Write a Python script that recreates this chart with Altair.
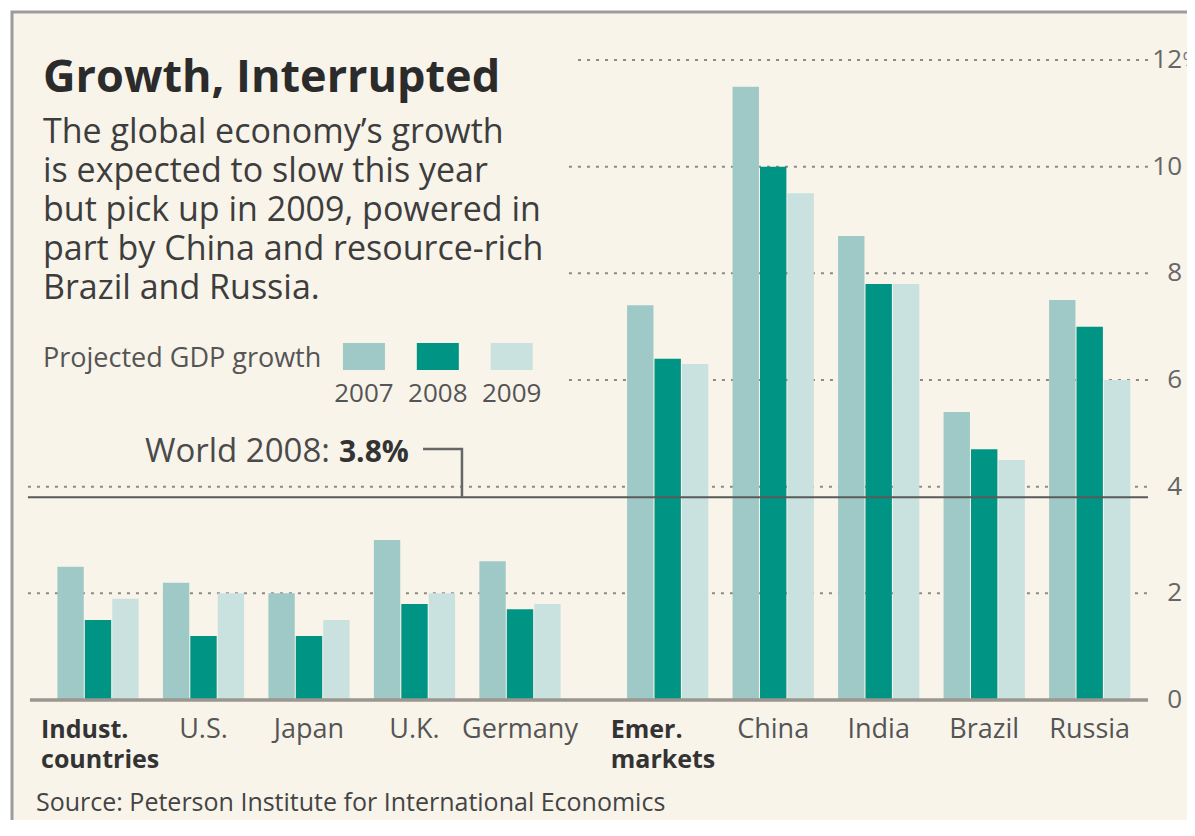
import altair as alt
import pandas as pd

# ---------------- data ----------------
groups = ["Indust.\ncountries", "U.S.", "Japan", "U.K.", "Germany",
          "Emer.\nmarkets", "China", "India", "Brazil", "Russia"]
bold_groups = ["Indust.\ncountries", "Emer.\nmarkets"]
years = ["2007", "2008", "2009"]
g2007 = [2.5, 2.2, 2.0, 3.0, 2.6, 7.4, 11.5, 8.7, 5.4, 7.5]
g2008 = [1.5, 1.2, 1.2, 1.8, 1.7, 6.4, 10.0, 7.8, 4.7, 7.0]
g2009 = [1.9, 2.0, 1.5, 2.0, 1.8, 6.3, 9.5, 7.8, 4.5, 6.0]
colors = ["#9fc9c6", "#009484", "#c9e1df"]
ticks = [0, 2, 4, 6, 8, 10, 12]
world_2008 = 3.8
title_text = "Growth, Interrupted"
body_lines = ["The global economy\u2019s growth",
              "is expected to slow this year",
              "but pick up in 2009, powered in",
              "part by China and resource-rich",
              "Brazil and Russia."]
legend_title = "Projected GDP growth"
source_text = "Source: Peterson Institute for International Economics"

FONT = "Open Sans"
CREAM = "#f8f4ea"

# ---------------- tables ----------------
rows = []
for gi, g in enumerate(groups):
    for si, (yr, vals) in enumerate(zip(years, [g2007, g2008, g2009])):
        rows.append({"group": g, "gi": gi, "year": yr, "si": si, "value": vals[gi]})
bars_df = pd.DataFrame(rows)
labels_df = pd.DataFrame({"group": groups, "gi": list(range(len(groups)))})
labels_df["bold"] = labels_df["group"].isin(bold_groups)
ticks_df = pd.DataFrame({"t": ticks, "label": [str(t) for t in ticks]})
grid_df = ticks_df[ticks_df["t"] > 0]
body_df = pd.DataFrame({"line": body_lines, "i": list(range(len(body_lines)))})
legend_df = pd.DataFrame({"year": years, "k": list(range(len(years)))})

XS = alt.Scale(domain=[-0.8531, 10.3223], nice=False, zero=False)
YS = alt.Scale(domain=[-2.25, 12.975], nice=False, zero=False)
color_scale = alt.Scale(domain=years, range=colors)

pos_expr = "datum.gi + (datum.gi >= 5 ? 0.4 : 0)"
X_LEFT, X_RIGHT = -0.664, 9.953

# background panel with frame
frame = alt.Chart(pd.DataFrame({"a": [0]})).mark_rect(
    fill=CREAM, stroke="#9c9c9c", strokeWidth=3
).encode(x=alt.value(4), x2=alt.value(1400), y=alt.value(4), y2=alt.value(1100))

# dotted gridlines
grid = alt.Chart(grid_df).transform_calculate(
    xs=f"datum.t >= 6 ? (datum.t == 12 ? 4.55 : 4.464) : {X_LEFT}",
    xe=f"{X_RIGHT}"
).mark_rule(color="#8c8a84", strokeWidth=2, strokeDash=[3, 6]).encode(
    x=alt.X("xs:Q", scale=XS, axis=None),
    x2="xe:Q",
    y=alt.Y("t:Q", scale=YS, axis=None),
)

# bars
bars = alt.Chart(bars_df).transform_calculate(
    u=pos_expr
).transform_calculate(
    bx="datum.u + (datum.si - 1) * 0.26 - 0.125"
).transform_calculate(
    bx2="datum.bx + 0.25", zero="0"
).mark_rect().encode(
    x=alt.X("bx:Q", scale=XS, axis=None),
    x2="bx2:Q",
    y=alt.Y("value:Q", scale=YS, axis=None),
    y2="zero:Q",
    color=alt.Color("year:N", scale=color_scale, legend=None),
)

# zero baseline
baseline = alt.Chart(pd.DataFrame({"t": [0]})).transform_calculate(
    xs="-0.645", xe=f"{X_RIGHT}"
).mark_rule(color="#9b9790", strokeWidth=3.5).encode(
    x=alt.X("xs:Q", scale=XS, axis=None), x2="xe:Q",
    y=alt.Y("t:Q", scale=YS, axis=None),
)

# world line
world_line = alt.Chart(pd.DataFrame({"w": [world_2008]})).transform_calculate(
    xs=f"{X_LEFT}", xe=f"{X_RIGHT}"
).mark_rule(color="#5a5a5a", strokeWidth=2).encode(
    x=alt.X("xs:Q", scale=XS, axis=None), x2="xe:Q",
    y=alt.Y("w:Q", scale=YS, axis=None),
)

# leader line from label to world line
leader_df = pd.DataFrame({"px": [3.081, 3.45, 3.45], "py": [4.706, 4.706, world_2008], "o": [0, 1, 2]})
leader = alt.Chart(leader_df).mark_line(color="#666666", strokeWidth=2.5, strokeJoin="miter").encode(
    x=alt.X("px:Q", scale=XS, axis=None),
    y=alt.Y("py:Q", scale=YS, axis=None),
    order="o:O",
)

world_txt_df = pd.DataFrame({"a": ["World 2008:"], "b": [f"{world_2008}%"]})
world_a = alt.Chart(world_txt_df).transform_calculate(px="2.199", py="4.4625").mark_text(
    align="right", baseline="alphabetic", font=FONT, fontSize=33, color="#4a4a4a"
).encode(x=alt.X("px:Q", scale=XS, axis=None), y=alt.Y("py:Q", scale=YS, axis=None), text="a:N")
world_b = alt.Chart(world_txt_df).transform_calculate(px="2.284", py="4.4625").mark_text(
    align="left", baseline="alphabetic", font=FONT, fontSize=30, fontWeight="bold", color="#333333"
).encode(x=alt.X("px:Q", scale=XS, axis=None), y=alt.Y("py:Q", scale=YS, axis=None), text="b:N")

# category labels
lab_norm = alt.Chart(labels_df).transform_filter("!datum.bold").transform_calculate(
    u=pos_expr, py="-0.7125"
).mark_text(align="center", baseline="alphabetic", font=FONT, fontSize=27, color="#555555",
            lineBreak="\n", lineHeight=30).encode(
    x=alt.X("u:Q", scale=XS, axis=None), y=alt.Y("py:Q", scale=YS, axis=None), text="group:N"
)
lab_bold = alt.Chart(labels_df).transform_filter("datum.bold").transform_calculate(
    u=pos_expr + " - 0.54", py="-0.7125"
).mark_text(align="left", baseline="alphabetic", font=FONT, fontSize=25, fontWeight="bold",
            color="#333333", lineBreak="\n", lineHeight=30).encode(
    x=alt.X("u:Q", scale=XS, axis=None), y=alt.Y("py:Q", scale=YS, axis=None), text="group:N"
)

# right-side tick labels
tick_lab = alt.Chart(ticks_df).transform_calculate(px="10.275").mark_text(
    align="right", baseline="middle", font=FONT, fontSize=26, color="#666666"
).encode(x=alt.X("px:Q", scale=XS, axis=None), y=alt.Y("t:Q", scale=YS, axis=None), text="label:N")
pct = alt.Chart(ticks_df).transform_filter("datum.t == 12").transform_calculate(px="10.28", s="'%'").mark_text(
    align="left", baseline="middle", font=FONT, fontSize=20, color="#777777"
).encode(x=alt.X("px:Q", scale=XS, axis=None), y=alt.Y("t:Q", scale=YS, axis=None), text="s:N")

# title and body
title = alt.Chart(pd.DataFrame({"s": [title_text]})).transform_calculate(px="-0.5213", py="11.4").mark_text(
    align="left", baseline="alphabetic", font=FONT, fontSize=45, fontWeight="bold", color="#2b2b2b"
).encode(x=alt.X("px:Q", scale=XS, axis=None), y=alt.Y("py:Q", scale=YS, axis=None), text="s:N")
body = alt.Chart(body_df).transform_calculate(px="-0.5213", py="10.444 - datum.i * 0.73125").mark_text(
    align="left", baseline="alphabetic", font=FONT, fontSize=34, color="#3d3d3d"
).encode(x=alt.X("px:Q", scale=XS, axis=None), y=alt.Y("py:Q", scale=YS, axis=None), text="line:N")

# legend
leg_title = alt.Chart(pd.DataFrame({"s": [legend_title]})).transform_calculate(px="-0.5213", py="6.244").mark_text(
    align="left", baseline="alphabetic", font=FONT, fontSize=27, color="#555555"
).encode(x=alt.X("px:Q", scale=XS, axis=None), y=alt.Y("py:Q", scale=YS, axis=None), text="s:N")
leg_sw = alt.Chart(legend_df).transform_calculate(
    cx="2.521 + datum.k * 0.70"
).transform_calculate(a="datum.cx - 0.199", b="datum.cx + 0.199", y1="6.1875", y2="6.694").mark_rect().encode(
    x=alt.X("a:Q", scale=XS, axis=None), x2="b:Q",
    y=alt.Y("y1:Q", scale=YS, axis=None), y2="y2:Q",
    color=alt.Color("year:N", scale=color_scale, legend=None),
)
leg_lab = alt.Chart(legend_df).transform_calculate(cx="2.521 + datum.k * 0.70", py="5.5875").mark_text(
    align="center", baseline="alphabetic", font=FONT, fontSize=26, color="#555555"
).encode(x=alt.X("cx:Q", scale=XS, axis=None), y=alt.Y("py:Q", scale=YS, axis=None), text="year:N")

# source
source = alt.Chart(pd.DataFrame({"s": [source_text]})).transform_calculate(px="-0.5877", py="-2.09").mark_text(
    align="left", baseline="alphabetic", font=FONT, fontSize=25, color="#444444"
).encode(x=alt.X("px:Q", scale=XS, axis=None), y=alt.Y("py:Q", scale=YS, axis=None), text="s:N")

chart = alt.layer(
    frame, grid, bars, baseline, world_line, leader, world_a, world_b,
    lab_norm, lab_bold, tick_lab, pct, title, body, leg_title, leg_sw, leg_lab, source
).properties(
    width=1179, height=812, padding=0,
    autosize=alt.AutoSizeParams(type="none"),
    background="white",
).configure_view(stroke=None)

chart.save("out.html", embed_options={"renderer": "svg", "actions": False})
